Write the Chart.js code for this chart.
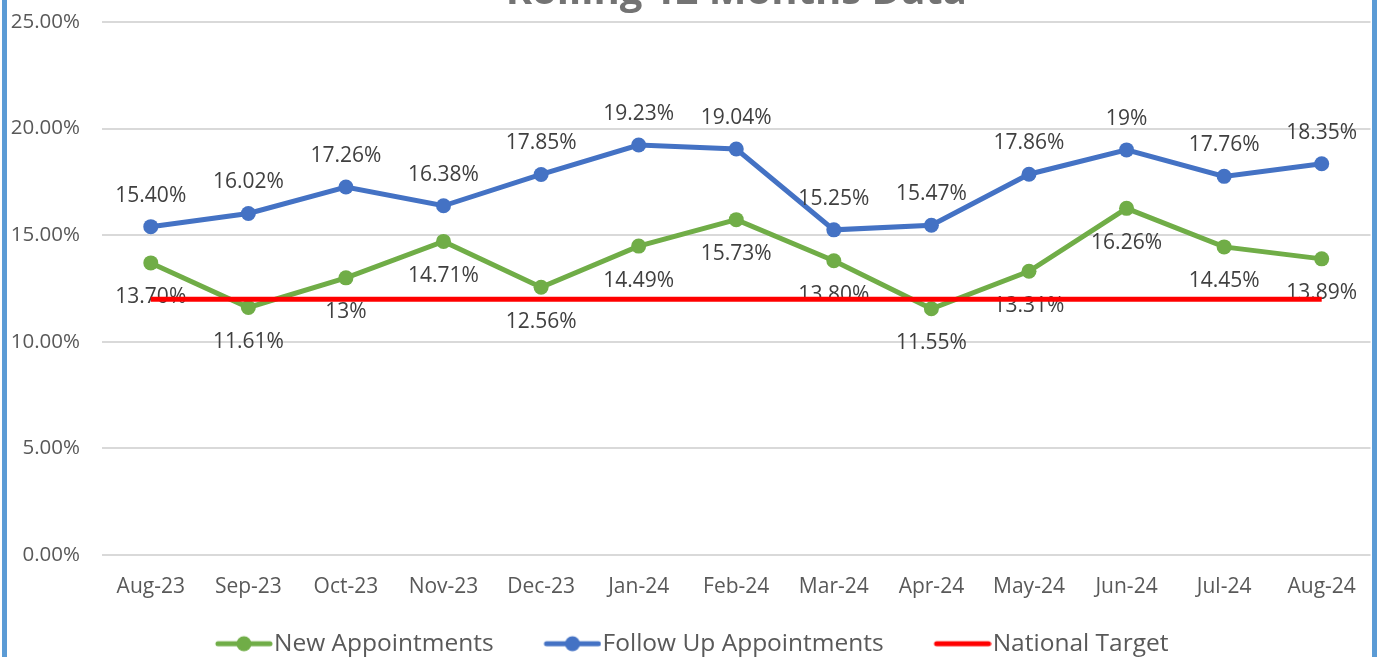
<!DOCTYPE html>
<html><head><meta charset="utf-8">
<script src="https://cdn.jsdelivr.net/npm/chart.js@4"></script>
<style>
html,body{margin:0;padding:0;background:#fff;overflow:hidden;width:1378px;height:657px;position:relative}
#c{position:absolute;left:0;top:-28px}
.bar{position:absolute;top:0;height:657px;width:5px;background:#5b9bd5}
</style></head><body>
<canvas id="c" width="1378" height="692"></canvas>
<div class="bar" style="left:2px"></div>
<div class="bar" style="left:1372px"></div>
<script>
const categories = ['Aug-23','Sep-23','Oct-23','Nov-23','Dec-23','Jan-24','Feb-24','Mar-24','Apr-24','May-24','Jun-24','Jul-24','Aug-24'];
const newAppointments = [13.70, 11.61, 13, 14.71, 12.56, 14.49, 15.73, 13.80, 11.55, 13.31, 16.26, 14.45, 13.89];
const followUpAppointments = [15.40, 16.02, 17.26, 16.38, 17.85, 19.23, 19.04, 15.25, 15.47, 17.86, 19, 17.76, 18.35];
const nationalTarget = [12, 12, 12, 12, 12, 12, 12, 12, 12, 12, 12, 12, 12];
const newLabels = ['13.70%','11.61%','13%','14.71%','12.56%','14.49%','15.73%','13.80%','11.55%','13.31%','16.26%','14.45%','13.89%'];
const followLabels = ['15.40%','16.02%','17.26%','16.38%','17.85%','19.23%','19.04%','15.25%','15.47%','17.86%','19%','17.76%','18.35%'];
const seriesNames = ['New Appointments','Follow Up Appointments','National Target'];
const titleText = 'Rolling 12 Months Data';

const GREEN = '#70ad47', BLUE = '#4472c4', RED = '#ff0000';
const FONT = '"Open Sans", sans-serif';

// legend icon: line + marker drawn at the right end of a wider transparent image
const LEG_BOX = 86.75, ICON_W = 58, IMG_W = Math.round(LEG_BOX + 22.5);
const LEGEND_SHIFT_X = -15, LEGEND_SHIFT_Y = 2;
function legendIcon(color, withDot, lw) {
  const c = document.createElement('canvas');
  c.width = IMG_W; c.height = 18;
  const x = c.getContext('2d');
  const x0 = IMG_W - ICON_W;
  x.strokeStyle = color; x.lineWidth = lw; x.lineCap = 'round';
  x.beginPath(); x.moveTo(x0 + 3, 9); x.lineTo(x0 + ICON_W - 3, 9); x.stroke();
  if (withDot) { x.fillStyle = color; x.beginPath(); x.arc(x0 + ICON_W / 2, 9, 7.5, 0, Math.PI * 2); x.fill(); }
  return c;
}
const icons = [legendIcon(GREEN, true, 5), legendIcon(BLUE, true, 5), legendIcon(RED, false, 5)];

const labelPlugin = {
  id: 'pointLabels',
  afterDatasetDraw(chart, args) {
    const ds = chart.data.datasets[args.index];
    if (!ds.pointLabels) return;
    const ctx = chart.ctx;
    ctx.save();
    ctx.font = '21px ' + FONT;
    ctx.fillStyle = '#404040';
    ctx.textAlign = 'center';
    ctx.textBaseline = 'middle';
    args.meta.data.forEach((pt, i) => {
      ctx.fillText(ds.pointLabels[i], pt.x, pt.y + ds.labelOffset);
    });
    ctx.restore();
  }
};

// centre the title over the plot area, nudge the legend
const layoutTweaks = {
  id: 'layoutTweaks',
  afterLayout(chart) {
    const t = chart.titleBlock;
    if (t) { t.left = chart.chartArea.left; t.right = chart.chartArea.right; t.width = t.right - t.left; }
    const l = chart.legend;
    if (l) { l.left += LEGEND_SHIFT_X; l.right += LEGEND_SHIFT_X; l.top += LEGEND_SHIFT_Y; l.bottom += LEGEND_SHIFT_Y; }
  }
};

new Chart(document.getElementById('c'), {
  type: 'line',
  data: {
    labels: categories,
    datasets: [
      { label: seriesNames[0], data: newAppointments, borderColor: GREEN, backgroundColor: GREEN,
        borderWidth: 5, pointRadius: 7.5, pointBorderWidth: 0, pointBackgroundColor: GREEN,
        order: 2, pointLabels: newLabels, labelOffset: 34.5 },
      { label: seriesNames[1], data: followUpAppointments, borderColor: BLUE, backgroundColor: BLUE,
        borderWidth: 5, pointRadius: 7.5, pointBorderWidth: 0, pointBackgroundColor: BLUE,
        order: 1, pointLabels: followLabels, labelOffset: -31 },
      { label: seriesNames[2], data: nationalTarget, borderColor: RED, backgroundColor: RED,
        borderWidth: 5, pointRadius: 0, order: 0 }
    ]
  },
  options: {
    responsive: false,
    animation: false,
    devicePixelRatio: 1,
    layout: { padding: { left: 0, right: 4.5, top: 0, bottom: 0 } },
    plugins: {
      tooltip: { enabled: false },
      title: {
        display: true, text: titleText, color: '#737373',
        font: { family: FONT, size: 40, weight: 'bold', lineHeight: 1.025 },
        padding: { top: 0, bottom: 9 }
      },
      legend: {
        position: 'bottom',
        labels: {
          usePointStyle: true, pointStyleWidth: LEG_BOX, padding: 10,
          color: '#595959', font: { family: FONT, size: 24.5 },
          generateLabels(chart) {
            return chart.data.datasets.map((ds, i) => ({
              text: ds.label, pointStyle: icons[i], fontColor: '#595959',
              hidden: false, datasetIndex: i, lineWidth: 0,
              strokeStyle: 'rgba(0,0,0,0)', fillStyle: 'rgba(0,0,0,0)'
            }));
          }
        }
      }
    },
    scales: {
      x: {
        offset: true,
        grid: { display: false, drawTicks: false },
        border: { display: false },
        ticks: { color: '#595959', font: { family: FONT, size: 21 }, padding: 19, maxRotation: 0, autoSkip: false },
        afterFit(s) { s.height = 64.5; s.paddingLeft = 0; s.paddingRight = 0; }
      },
      y: {
        min: 0, max: 25,
        grid: { color: '#d9d9d9', lineWidth: 2, drawTicks: false },
        border: { display: false },
        ticks: { stepSize: 5, color: '#595959', font: { family: FONT, size: 20.5 }, padding: 22,
          callback: v => Number(v).toFixed(2) + '%' },
        afterFit(s) { s.width = 102; }
      }
    }
  },
  plugins: [labelPlugin, layoutTweaks]
});
</script>
</body></html>
